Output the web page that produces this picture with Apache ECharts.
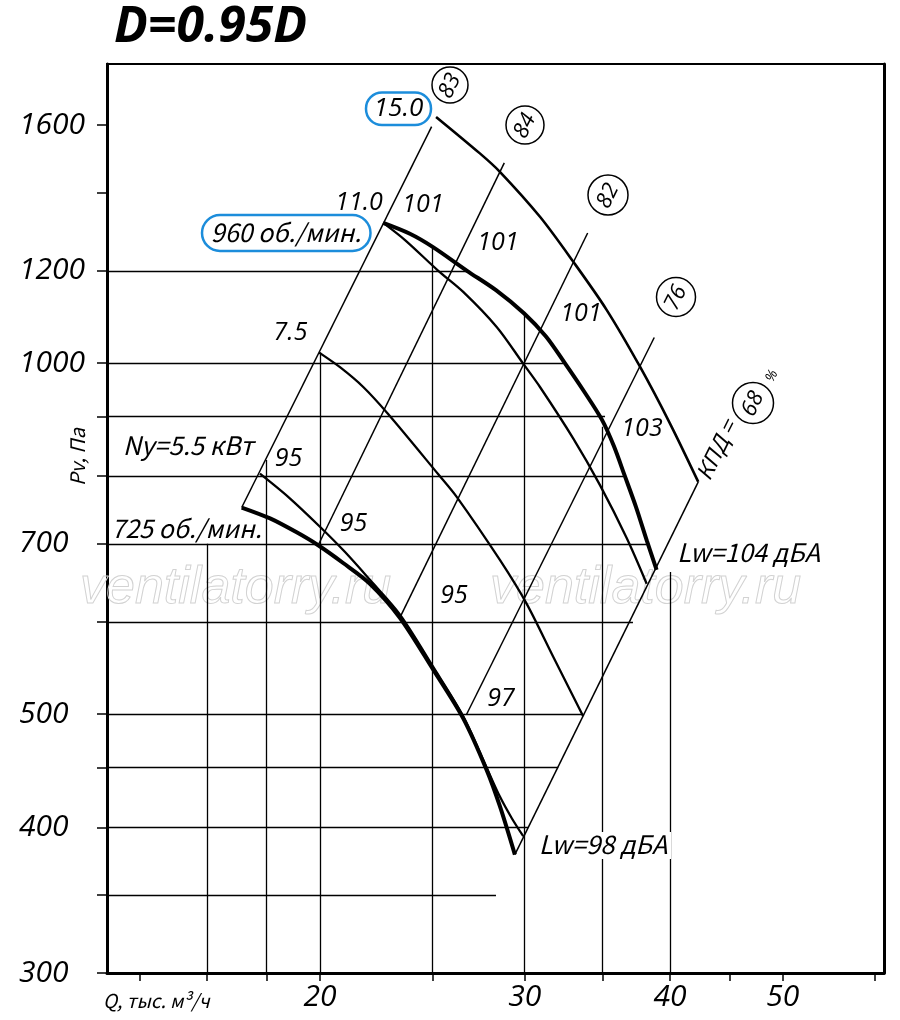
<!DOCTYPE html>
<html><head><meta charset="utf-8">
<script src="https://cdn.jsdelivr.net/npm/echarts@6/dist/echarts.min.js"></script>
<style>html,body{margin:0;padding:0;background:#fff}#c{width:900px;height:1020px}</style>
</head><body><div id="c"></div>
<script>
// ---------- axis ticks / labels ----------
const qTicks  = [14,16,18,20,25,30,35,40,45,50,60];
const qLabels = [20,30,40,50];
const pTicks  = [300,350,400,450,500,600,700,800,900,1000,1200,1400,1600];
const pLabels = [300,400,500,700,1000,1200,1600];
const Q_MIN = 13.12, Q_MAX = 61.1, P_MIN = 300, P_MAX = 1805;

// ---------- fan curves (Q, тыс. м3/ч ; Pv, Па) ----------
const c15_Q  = [25.17,27.45,28.56,30.92,33.02,35.28,37.69,39.99,42.30];
const c15_P  = [1626,1513,1459,1335,1222,1111,993,888,791];
const c11_Q  = [22.67,23.67,25.28,26.56,28.38,29.91,30.92,33.02,34.82,36.71,38.19];
const c11_P  = [1319,1275,1200,1151,1074,999,954,862,786,708,647];
const c960_Q = [22.67,23.90,25.00,26.76,28.34,29.97,31.29,32.48,33.73,34.96,35.79,36.58,37.39,38.21,38.95];
const c960_P = [1319,1291,1258,1200,1155,1103,1054,1000,946,894,849,800,753,704,665];
const c75_Q  = [19.97,20.81,21.79,22.90,25.28,26.22,28.56,30.11,31.74,33.68];
const c75_P  = [1021,992,954,904,803,768,678,622,560,498];
const c55_Q  = [17.76,18.78,20.00,21.01,22.08,23.43,25.03,26.56,27.82,28.56,29.25,29.91];
const c55_P  = [804,768,724,689,652,609,549,498,450,425,407,393];
const c725_Q = [17.13,18.12,19.10,19.93,20.94,22.08,23.43,25.03,26.56,27.82,28.56,29.42];
const c725_P = [752,736,716,698,674,647,605,546,496,448,417,379];

// ---------- constant-resistance lines (start / end) ----------
const diagQ0 = [17.13,19.93,23.43,26.74,29.42];
const diagP0 = [752,698,605,500,379];
const diagQ1 = [24.95,28.81,33.98,38.77,42.30];
const diagP1 = [1595,1485,1293,1052,791];

// ---------- clipped grid lines ----------
const hGridP    = [1200,1000,900,800,700,600,500,450,400,350];
const hGridEndQ = [26.76,32.38,35.17,36.47,38.25,37.17,33.68,32.06,30.21,28.34];
const vGridQ    = [16,18,20,25,30,35,40];
const vGridEndP = [700,826,1021,1258,1103,882,662];

const lg = Math.log10;
const pts = (qs, ps) => qs.map((q, i) => [lg(q), lg(ps[i])]);

const gridSegs = [];
hGridP.forEach((p, i) => gridSegs.push({coords: [[lg(Q_MIN), lg(p)], [lg(hGridEndQ[i]), lg(p)]]}));
vGridQ.forEach((q, i) => gridSegs.push({coords: [[lg(q), lg(P_MIN)], [lg(q), lg(vGridEndP[i])]]}));
const diagSegs = diagQ0.map((q, i) => ({coords: [[lg(q), lg(diagP0[i])], [lg(diagQ1[i]), lg(diagP1[i])]]}));

function curve(name, qs, ps, w) {
  return {type: 'line', name, data: pts(qs, ps), symbol: 'none', showSymbol: false,
    smooth: 0.3, silent: true, z: 5,
    lineStyle: {color: '#000', width: w}};
}

const FF = '"Open Sans", "DejaVu Sans", sans-serif';
const FC = '"Noto Sans CJK SC", "DejaVu Sans", sans-serif';
function T(text, x, y, size, o = {}) {
  return {type: 'text', x, y, rotation: o.rot || 0, z: o.z || 100, silent: true,
    style: {text, x: 0, y: 0, fill: o.fill || '#000',
      font: `italic ${o.weight || 'normal'} ${size}px ${o.family || FF}`,
      textAlign: o.align || 'center', align: o.align || 'center',
      textVerticalAlign: 'middle', verticalAlign: 'middle',
      stroke: o.stroke, lineWidth: o.lw}};
}
const ROT = Math.atan(2);
const BLUE = '#1c8ddb';
function circ(cx, cy, r, txt) {
  return [
    {type: 'circle', z: 99, silent: true, shape: {cx, cy, r}, style: {fill: '#fff', stroke: '#000', lineWidth: 1.5}},
    T(txt, cx, cy + 1, 22, {rot: ROT})
  ];
}

const graphics = [
  // watermark
  T('ventilatorry.ru', 80, 589, 52, {align: 'left', family: '"Liberation Sans", Arial, sans-serif', fill: 'rgba(0,0,0,0)', stroke: '#d2d2d2', lw: 1, z: 1}),
  T('ventilatorry.ru', 490, 589, 52, {align: 'left', family: '"Liberation Sans", Arial, sans-serif', fill: 'rgba(0,0,0,0)', stroke: '#d2d2d2', lw: 1, z: 1}),
  // title & axis names
  T('D=0.95D', 114, 28, 50, {align: 'left', weight: 'bold'}),
  T('Pv, Па', 77, 457, 20, {rot: Math.PI / 2, family: FC}),
  T('Q, тыс. м³/ч', 103, 1001, 19, {align: 'left', family: FC}),
  // blue boxes
  {type: 'rect', z: 99, silent: true, shape: {x: 366, y: 92.5, width: 65, height: 32.5, r: 16}, style: {fill: '#fff', stroke: BLUE, lineWidth: 2.5}},
  T('15.0', 398.5, 109, 26),
  {type: 'rect', z: 99, silent: true, shape: {x: 202, y: 215, width: 168.5, height: 36, r: 18}, style: {fill: '#fff', stroke: BLUE, lineWidth: 2.5}},
  T('960 об./мин.', 286, 232.5, 25, {family: FC}),
  // labels
  T('11.0', 359, 203, 25),
  T('101', 423, 205, 25),
  T('101', 498, 242.5, 25),
  T('101', 581, 314, 25),
  T('103', 642, 429, 25),
  T('7.5', 290.5, 332.5, 25),
  T('Ny=5.5 кВт', 188, 445, 25.5, {family: FC}),
  T('95', 288.5, 459, 25),
  T('95', 353.5, 524, 25),
  T('95', 454, 596, 25),
  T('97', 501, 699, 25),
  T('725 об./мин.', 186.5, 528.5, 25, {family: FC}),
  T('Lw=104 дБА', 748.5, 552.5, 25.5, {family: FC}),
  {type: 'rect', z: 99, silent: true, shape: {x: 536, y: 832, width: 135, height: 27}, style: {fill: '#fff'}},
  T('Lw=98 дБА', 603, 844.5, 25.5, {family: FC}),
  ...circ(450, 85, 18, '83'),
  ...circ(525, 125, 19, '84'),
  ...circ(608, 195, 20, '82'),
  ...circ(676, 297, 19.5, '76'),
  ...circ(753, 403, 20.5, '68'),
  T('КПД =', 716, 450, 22, {rot: ROT, family: FC}),
  T('%', 772, 376, 14, {rot: ROT})
];

const chart = echarts.init(document.getElementById('c'), null, {renderer: 'canvas'});
chart.setOption({
  animation: false,
  backgroundColor: '#fff',
  grid: {left: 107, right: 16, top: 64, bottom: 47, show: true, borderColor: '#000', borderWidth: 2, containLabel: false},
  xAxis: {
    type: 'value', min: lg(Q_MIN), max: lg(Q_MAX),
    axisLine: {show: true, onZero: false, lineStyle: {color: '#000', width: 3}},
    axisTick: {show: true, inside: false, length: 8, customValues: qTicks.map(lg), lineStyle: {color: '#000', width: 1.5}},
    axisLabel: {show: true, margin: 9, customValues: qLabels.map(lg),
      formatter: v => String(Math.round(Math.pow(10, v))),
      color: '#000', fontSize: 30, fontStyle: 'italic', fontFamily: FF},
    splitLine: {show: false}
  },
  yAxis: [{
    type: 'value', min: lg(P_MIN), max: lg(P_MAX),
    axisLine: {show: true, onZero: false, lineStyle: {color: '#000', width: 3}},
    axisTick: {show: true, inside: false, length: 10, customValues: pTicks.map(lg), lineStyle: {color: '#000', width: 1.5}},
    axisLabel: {show: true, margin: 88, align: 'left', customValues: pLabels.map(lg),
      formatter: v => String(Math.round(Math.pow(10, v))),
      color: '#000', fontSize: 30, fontStyle: 'italic', fontFamily: FF},
    splitLine: {show: false}
  }, {
    type: 'value', position: 'right', min: lg(P_MIN), max: lg(P_MAX),
    axisLine: {show: true, onZero: false, lineStyle: {color: '#000', width: 3}},
    axisTick: {show: false}, axisLabel: {show: false}, splitLine: {show: false}
  }],
  series: [
    {type: 'lines', coordinateSystem: 'cartesian2d', silent: true, z: 3, data: gridSegs,
      lineStyle: {color: '#000', width: 1.3, opacity: 1}},
    {type: 'lines', coordinateSystem: 'cartesian2d', silent: true, z: 4, data: diagSegs,
      lineStyle: {color: '#000', width: 1.5, opacity: 1}},
    curve('15.0', c15_Q, c15_P, 2.6),
    curve('11.0', c11_Q, c11_P, 2.3),
    curve('960', c960_Q, c960_P, 4),
    curve('7.5', c75_Q, c75_P, 2.3),
    curve('5.5', c55_Q, c55_P, 2.3),
    curve('725', c725_Q, c725_P, 4)
  ],
  graphic: graphics
});
</script>
</body></html>
